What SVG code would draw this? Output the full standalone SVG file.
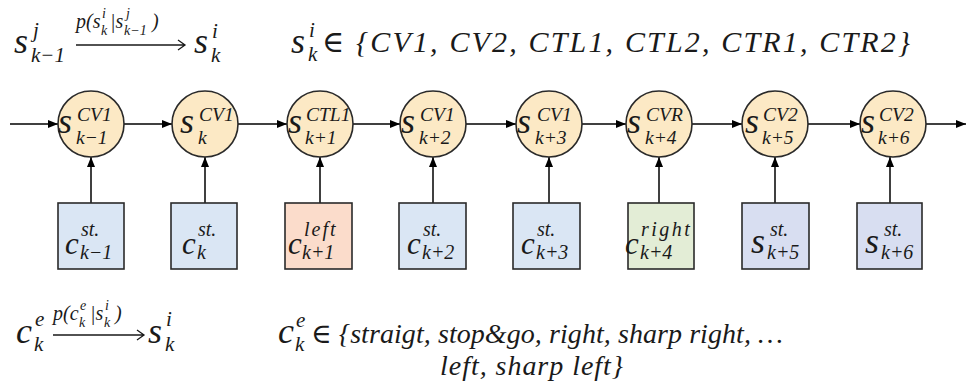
<svg xmlns="http://www.w3.org/2000/svg" width="966" height="390" viewBox="0 0 966 390">
<style>
.m{font-family:"Liberation Serif","DejaVu Serif",serif;font-style:italic;fill:#1a1a1a}
.L{font-size:36px}
.B{font-size:31px}
.S{font-size:21px}
.C{font-size:19.5px}
.Q{font-size:20px}
.P{font-size:20px}
.T{font-size:14px}
.F{font-size:30px}
.G{font-size:28px}
.st{fill:#fce9c5;stroke:#2a2a2a;stroke-width:1.6}
.bx{stroke:#2a2a2a;stroke-width:1.6}
.blue{fill:#dae6f4}.peach{fill:#fbdccb}.green{fill:#e3edd6}.lav{fill:#d8def1}
.ed{stroke:#000;stroke-width:1.5;fill:none}
.fa{stroke:#1a1a1a;stroke-width:1.3;fill:none}
</style>
<defs>
<marker id="ah" viewBox="0 0 10 10" refX="10" refY="5" markerWidth="10" markerHeight="10" markerUnits="userSpaceOnUse" orient="auto">
<path d="M0,1 L10,5 L0,9 z" fill="#000"/>
</marker>
</defs>

<g id="formula-transition">
<text class="m L" x="14" y="53">s</text>
<text class="m S" x="33" y="37">j</text>
<text class="m S" x="31" y="62">k−1</text>
<path class="fa" d="M76,45 H184 M178,40 L185,45 L178,50"/>
<text class="m P" x="76" y="28">p(s</text>
<text class="m T" x="102" y="18">i</text>
<text class="m T" x="101" y="35">k</text>
<text class="m P" x="110" y="28">|s</text>
<text class="m T" x="126" y="18">j</text>
<text class="m T" x="124" y="35">k−1</text>
<text class="m P" x="152" y="28">)</text>
<text class="m L" x="194" y="53">s</text>
<text class="m S" x="212" y="38">i</text>
<text class="m S" x="211" y="62">k</text>
</g>

<g id="formula-states">
<text class="m L" x="291" y="53">s</text>
<text class="m S" x="309" y="37">i</text>
<text class="m S" x="308" y="61">k</text>
<text class="m F" x="322" y="52" textLength="588" lengthAdjust="spacing">∈ {CV1, CV2, CTL1, CTL2, CTR1, CTR2}</text>
</g>

<g id="connectors">
<line class="ed" x1="10" y1="124" x2="58" y2="124" marker-end="url(#ah)"/>
<line class="ed" x1="124" y1="124" x2="172" y2="124" marker-end="url(#ah)"/>
<line class="ed" x1="238" y1="124" x2="287" y2="124" marker-end="url(#ah)"/>
<line class="ed" x1="353" y1="124" x2="400" y2="124" marker-end="url(#ah)"/>
<line class="ed" x1="466" y1="124" x2="516" y2="124" marker-end="url(#ah)"/>
<line class="ed" x1="582" y1="124" x2="626" y2="124" marker-end="url(#ah)"/>
<line class="ed" x1="692" y1="124" x2="742" y2="124" marker-end="url(#ah)"/>
<line class="ed" x1="808" y1="124" x2="860" y2="124" marker-end="url(#ah)"/>
<line class="ed" x1="926" y1="124" x2="966" y2="124" marker-end="url(#ah)"/>
<line class="ed" x1="91" y1="203" x2="91" y2="157" marker-end="url(#ah)"/>
<line class="ed" x1="205" y1="203" x2="205" y2="157" marker-end="url(#ah)"/>
<line class="ed" x1="320" y1="203" x2="320" y2="157" marker-end="url(#ah)"/>
<line class="ed" x1="433" y1="203" x2="433" y2="157" marker-end="url(#ah)"/>
<line class="ed" x1="549" y1="203" x2="549" y2="157" marker-end="url(#ah)"/>
<line class="ed" x1="659" y1="203" x2="659" y2="157" marker-end="url(#ah)"/>
<line class="ed" x1="775" y1="203" x2="775" y2="157" marker-end="url(#ah)"/>
<line class="ed" x1="890" y1="203" x2="890" y2="157" marker-end="url(#ah)"/>
</g>

<g id="s1"><circle class="st" cx="91" cy="124" r="33"/>
<text class="m L" x="58" y="133">s</text><text class="m C" x="77" y="121">CV1</text><text class="m C" x="76" y="144">k−1</text></g>
<g id="s2"><circle class="st" cx="205" cy="124" r="33"/>
<text class="m L" x="180" y="133">s</text><text class="m C" x="199" y="121">CV1</text><text class="m C" x="198" y="144">k</text></g>
<g id="s3"><circle class="st" cx="320" cy="124" r="33"/>
<text class="m L" x="288" y="133">s</text><text class="m C" x="306" y="121">CTL1</text><text class="m C" x="305" y="144">k+1</text></g>
<g id="s4"><circle class="st" cx="433" cy="124" r="33"/>
<text class="m L" x="401" y="133">s</text><text class="m C" x="420" y="121">CV1</text><text class="m C" x="419" y="144">k+2</text></g>
<g id="s5"><circle class="st" cx="549" cy="124" r="33"/>
<text class="m L" x="517" y="133">s</text><text class="m C" x="537" y="121">CV1</text><text class="m C" x="535" y="144">k+3</text></g>
<g id="s6"><circle class="st" cx="659" cy="124" r="33"/>
<text class="m L" x="627" y="133">s</text><text class="m C" x="646" y="121">CVR</text><text class="m C" x="645" y="144">k+4</text></g>
<g id="s7"><circle class="st" cx="775" cy="124" r="33"/>
<text class="m L" x="745" y="133">s</text><text class="m C" x="763" y="121">CV2</text><text class="m C" x="762" y="144">k+5</text></g>
<g id="s8"><circle class="st" cx="893" cy="124" r="33"/>
<text class="m L" x="861" y="133">s</text><text class="m C" x="879" y="121">CV2</text><text class="m C" x="878" y="144">k+6</text></g>

<g id="c1"><rect class="bx blue" x="58" y="203" width="66" height="66"/>
<text class="m B" x="65" y="254">c</text><text class="m Q" x="81" y="236">st.</text><text class="m Q" x="80" y="259">k−1</text></g>
<g id="c2"><rect class="bx blue" x="171" y="203" width="66" height="66"/>
<text class="m B" x="182" y="254">c</text><text class="m Q" x="198" y="236">st.</text><text class="m Q" x="197" y="259">k</text></g>
<g id="c3"><rect class="bx peach" x="285" y="203" width="67" height="66"/>
<text class="m B" x="288" y="254">c</text><text class="m Q" x="304" y="236" letter-spacing="2">left</text><text class="m Q" x="302" y="259">k+1</text></g>
<g id="c4"><rect class="bx blue" x="399" y="203" width="67" height="66"/>
<text class="m B" x="407" y="254">c</text><text class="m Q" x="423" y="236">st.</text><text class="m Q" x="422" y="259">k+2</text></g>
<g id="c5"><rect class="bx blue" x="513" y="203" width="67" height="66"/>
<text class="m B" x="521" y="254">c</text><text class="m Q" x="537" y="236">st.</text><text class="m Q" x="536" y="259">k+3</text></g>
<g id="c6"><rect class="bx green" x="628" y="203" width="66" height="66"/>
<text class="m B" x="625" y="254">c</text><text class="m Q" x="641" y="236" letter-spacing="2.5">right</text><text class="m Q" x="640" y="259">k+4</text></g>
<g id="c7"><rect class="bx lav" x="742" y="203" width="67" height="66"/>
<text class="m L" x="751" y="253">s</text><text class="m Q" x="770" y="236">st.</text><text class="m Q" x="767" y="259">k+5</text></g>
<g id="c8"><rect class="bx lav" x="857" y="203" width="65" height="66"/>
<text class="m L" x="865" y="253">s</text><text class="m Q" x="884" y="236">st.</text><text class="m Q" x="881" y="259">k+6</text></g>

<g id="formula-emission">
<text class="m L" x="16" y="343">c</text>
<text class="m S" x="35" y="326">e</text>
<text class="m S" x="34" y="351">k</text>
<path class="fa" d="M53,335 H143 M137,330 L144,335 L137,340"/>
<text class="m P" x="53" y="320">p(c</text>
<text class="m T" x="80" y="310">e</text>
<text class="m T" x="79" y="327">k</text>
<text class="m P" x="90" y="320">|s</text>
<text class="m T" x="105" y="310">i</text>
<text class="m T" x="104" y="327">k</text>
<text class="m P" x="115" y="320">)</text>
<text class="m L" x="148" y="343">s</text>
<text class="m S" x="166" y="326">i</text>
<text class="m S" x="165" y="351">k</text>
</g>

<g id="formula-events">
<text class="m L" x="278" y="343">c</text>
<text class="m S" x="296" y="327">e</text>
<text class="m S" x="295" y="351">k</text>
<text class="m G" x="311" y="343" textLength="472" lengthAdjust="spacing">∈ {straigt, stop&amp;go, right, sharp right, …</text>
<text class="m G" x="440" y="375" textLength="183" lengthAdjust="spacing">left, sharp left}</text>
</g>
</svg>
